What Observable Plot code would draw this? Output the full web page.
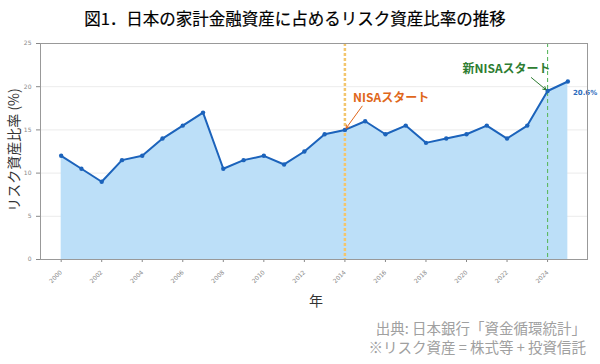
<!DOCTYPE html>
<html>
<head>
<meta charset="utf-8">
<script src="https://cdn.jsdelivr.net/npm/d3@7"></script>
<script src="https://cdn.jsdelivr.net/npm/@observablehq/plot@0.6"></script>
<style>
  html, body { margin: 0; padding: 0; background: #fff; }
  #chart { width: 600px; height: 364px; position: relative; }
</style>
</head>
<body>
<div id="chart"></div>
<script>
const years = [2000,2001,2002,2003,2004,2005,2006,2007,2008,2009,2010,2011,2012,2013,2014,2015,2016,2017,2018,2019,2020,2021,2022,2023,2024,2025];
const ratios = [12,10.5,9,11.5,12,14,15.5,17,10.5,11.5,12,11,12.5,14.5,15,16,14.5,15.5,13.5,14,14.5,15.5,14,15.5,19.5,20.6];
const xTicks = [2000,2002,2004,2006,2008,2010,2012,2014,2016,2018,2020,2022,2024];
const yTicks = [0,5,10,15,20,25];
const gridTicks = [5,10,15,20];
const titleText = "図1．日本の家計金融資産に占めるリスク資産比率の推移";
const yLabel = "リスク資産比率 (%)";
const xLabel = "年";
const captionLines = ["出典: 日本銀行「資金循環統計」", "※リスク資産 = 株式等 + 投資信託"];
const events = [
  {year: 2014, label: "NISAスタート", value: 15, tx: 2014.4, ty: 18.7, ax: 2014.85, ay: 17.75, color: "#e0671b"},
  {year: 2024, label: "新NISAスタート", value: 19.5, tx: 2019.8, ty: 22.0, ax: 2023.2, ay: 21.05, color: "#2e7d32"}
];
const lastLabel = "20.6%";

const data = years.map((y, i) => ({year: y, ratio: ratios[i]}));
const last = data[data.length - 1];
const font = "'Noto Sans CJK JP', 'Noto Sans', sans-serif";

const plot = Plot.plot({
  width: 600,
  height: 364,
  marginTop: 43,
  marginBottom: 105,
  marginLeft: 40,
  marginRight: 13,
  style: {fontFamily: "'DejaVu Sans', sans-serif", background: "#fff"},
  x: {domain: [1998.98, 2025.97], ticks: xTicks, tickFormat: d => String(d), tickRotate: -45, tickSize: 3, label: null},
  y: {domain: [0, 25], ticks: yTicks, tickSize: 4, label: null},
  marks: [
    Plot.ruleY(gridTicks, {stroke: "#e6e6e6", strokeWidth: 0.8}),
    Plot.areaY(data, {x: "year", y: "ratio", fill: "#bcdff8", fillOpacity: 1}),
    Plot.ruleX([events[0].year], {stroke: "#f3c66e", strokeWidth: 2.5, strokeDasharray: "3,2"}),
    Plot.ruleX([events[1].year], {stroke: "#5cb860", strokeWidth: 1.1, strokeDasharray: "4,3"}),
    Plot.line(data, {x: "year", y: "ratio", stroke: "#1c63bb", strokeWidth: 2}),
    Plot.dot(data, {x: "year", y: "ratio", fill: "#1c63bb", r: 2.2}),
    Plot.arrow(events, {x1: "ax", y1: "ay", x2: "year", y2: "value", stroke: d => d.color, strokeWidth: 1, headLength: 5, insetEnd: 2}),
    Plot.text(events, {x: "tx", y: "ty", text: "label", fill: d => d.color, textAnchor: "start", fontSize: 12, fontWeight: "bold", fontFamily: font}),
    Plot.text([last], {x: () => 2025.25, y: () => 19.35, text: () => lastLabel, fill: "#2d6bbd", textAnchor: "start", fontSize: 7, fontWeight: "bold"}),
    Plot.axisX({ticks: xTicks, tickFormat: d => String(d), tickRotate: -45, tickSize: 3, fontSize: 6, color: "#888", label: null}),
    Plot.axisY({ticks: yTicks, tickSize: 4, fontSize: 6, color: "#888", label: null}),
    Plot.frame({stroke: "#999", strokeWidth: 1})
  ]
});

const svg = d3.select(plot);
svg.append("text").attr("x", 295).attr("y", 25).attr("text-anchor", "middle")
  .attr("font-family", font).attr("font-size", 16.5).attr("font-weight", "normal").attr("fill", "#000")
  .attr("stroke", "#000").attr("stroke-width", 0.2).text(titleText);
svg.append("text").attr("transform", "translate(19,150) rotate(-90)").attr("text-anchor", "middle")
  .attr("font-family", font).attr("font-size", 14).attr("fill", "#333").text(yLabel);
svg.append("text").attr("x", 316).attr("y", 306).attr("text-anchor", "middle")
  .attr("font-family", font).attr("font-size", 14).attr("fill", "#333").text(xLabel);
captionLines.forEach((t, i) => {
  svg.append("text").attr("x", 586).attr("y", 334 + i * 19).attr("text-anchor", "end")
    .attr("font-family", font).attr("font-size", 14.5).attr("fill", "#a0a0a0").text(t);
});

document.getElementById("chart").appendChild(plot);
</script>
</body>
</html>
